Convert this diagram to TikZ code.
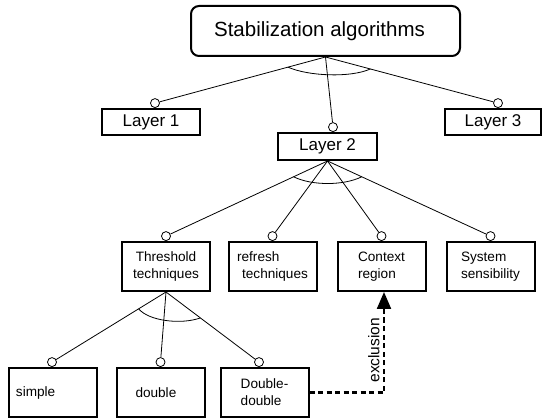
\documentclass[tikz,border=0pt]{standalone}
\usepackage{fontspec}
\setmainfont{Liberation Sans}
\usetikzlibrary{arrows.meta,calc}

\begin{document}
\begin{tikzpicture}[x=1pt,y=-1pt,line width=0.8pt,
    box/.style={draw,line width=2pt,minimum width=88pt,minimum height=49pt,inner sep=0pt,align=center,font=\fontsize{13.6}{17}\selectfont},
    layer/.style={draw,line width=2pt,minimum height=26pt,inner sep=0pt,font=\fontsize{17}{20}\selectfont},
    dot/.style={draw,fill=white,circle,inner sep=0pt,minimum size=9pt,line width=0.8pt,anchor=south}]
  \useasboundingbox (0,0) rectangle (543,419);
  % root and layers
  \node[draw,line width=2pt,rounded corners=8pt,minimum width=269pt,minimum height=50pt,font=\fontsize{20.5}{24}\selectfont] (top) at (325.5,31) {\hspace*{-12pt}Stabilization algorithms};
  \node[layer,minimum width=98pt] (l1) at (151,122) {Layer 1};
  \node[layer,minimum width=99pt,minimum height=27pt] (l2) at (327.5,146.5) {Layer 2};
  \node[layer,minimum width=96pt] (l3) at (493,122) {Layer 3};
  \node[dot] (l1d) at ([xshift=4pt]l1.north) {};
  \node[dot] (l2d) at ([xshift=5.5pt]l2.north) {};
  \node[dot] (l3d) at ([xshift=5pt]l3.north) {};
  % second level
  \node[box] (thr) at (166,266.5) {Threshold\\techniques};
  \node[box,align=left] (ref) at (272.5,266.5) {refresh\\\hspace*{5pt}techniques};
  \node[box,align=left] (ctx) at (381.5,266.5) {Context\\region};
  \node[box,align=left] (sys) at (490.5,266.5) {System\\sensibility};
  \foreach \n in {thr,ref,ctx,sys}
    \node[dot] (\n d) at (\n.north) {};
  % third level
  \node[box,align=left,text width=74pt] (sim) at (53,392.5) {simple};
  \node[box,align=left,text width=74pt] (dbl) at (160.5,392.5) {\hspace*{12pt}double};
  \node[box,align=left] (ddb) at (264.5,392.5) {Double-\\double};
  \node[dot] (simd) at ([xshift=-1pt]sim.north) {};
  \node[dot] (dbld) at (dbl.north) {};
  \node[dot] (ddbd) at ([xshift=-5.5pt]ddb.north) {};
  % connectors
  \foreach \n in {l1d,l2d,l3d}
    \draw (top.south) -- (\n);
  \foreach \n in {thrd,refd,ctxd,sysd}
    \draw (l2.south) -- (\n);
  \foreach \n in {simd,dbld,ddbd}
    \draw (thr.south) -- (\n);
  % and-arcs
  \coordinate (ta) at ($(top.south)!0.22!(l1d)$);
  \coordinate (tb) at ($(top.south)!0.26!(l3d)$);
  \draw (ta) .. controls ($(ta)+(20,9)$) and ($(tb)+(-20,9)$) .. (tb);
  \coordinate (ma) at ($(l2.south)!0.21!(thrd)$);
  \coordinate (mb) at ($(l2.south)!0.21!(sysd)$);
  \draw (ma) .. controls ($(ma)+(18,9)$) and ($(mb)+(-18,9)$) .. (mb);
  \coordinate (ba) at ($(thr.south)!0.24!(simd)$);
  \coordinate (bb) at ($(thr.south)!0.37!(ddbd)$);
  \draw (ba) .. controls ($(ba)+(10,12)$) and ($(bb)+(-20,7)$) .. (bb);
  % exclusion
  \draw[line width=2.2pt,dash pattern=on 5pt off 3.5pt,-{Triangle[length=17pt,width=14pt]}]
    (ddb.east) -| node[pos=0.71,above,rotate=90,font=\fontsize{15.5}{18}\selectfont] {exclusion} ([xshift=2.5pt]ctx.south);
\end{tikzpicture}
\end{document}
